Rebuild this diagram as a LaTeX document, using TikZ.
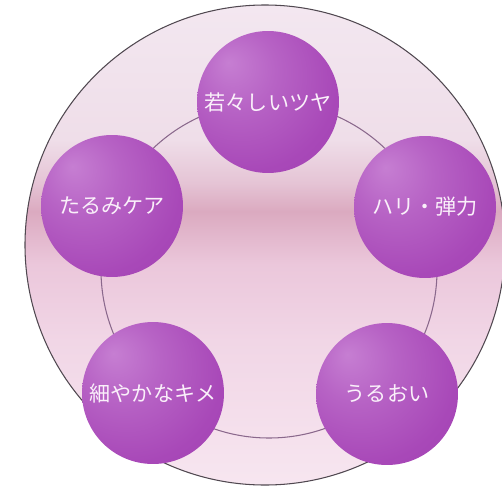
\documentclass[tikz,border=0pt]{standalone}
\usepackage{fontspec}
\newfontfamily\cjk{Noto Sans CJK JP}
\usetikzlibrary{calc}
\definecolor{BgTop}{RGB}{243,231,240}
\definecolor{BgHigh}{RGB}{239,222,233}
\definecolor{BgEdge}{RGB}{229,196,213}
\definecolor{BgMid}{RGB}{219,170,192}
\definecolor{BgLow}{RGB}{235,199,219}
\definecolor{BgDeep}{RGB}{241,214,230}
\definecolor{BgBot}{RGB}{247,230,240}
\definecolor{RimClr}{RGB}{80,72,80}
\definecolor{RingClr}{RGB}{138,104,140}
\definecolor{BallClr}{RGB}{168,72,184}
\definecolor{BallLight}{RGB}{198,126,210}
\definecolor{BallDark}{RGB}{156,62,174}
\definecolor{TextClr}{RGB}{250,240,250}

% backdrop band: 25bp = bottom of the disc, 75bp = top
\pgfdeclareverticalshading{silkband}{100bp}{%
  color(0bp)=(BgBot); color(25bp)=(BgBot); color(40bp)=(BgDeep);
  color(48bp)=(BgLow); color(53.5bp)=(BgMid); color(56.5bp)=(BgEdge);
  color(61bp)=(BgHigh); color(75bp)=(BgTop); color(100bp)=(BgTop)}

\pgfdeclareradialshading{pearlshade}{\pgfpoint{-14bp}{14bp}}{%
  color(0bp)=(BallLight); color(14bp)=(BallLight!50!BallClr);
  color(32bp)=(BallClr); color(54bp)=(BallDark); color(70bp)=(BallDark)}

\tikzset{
  ballnode/.style={circle, minimum size=2.84cm, inner sep=0pt,
    shading=pearlshade, text=TextClr, font=\cjk\fontsize{12}{14}\selectfont},
}

\begin{document}
\begin{tikzpicture}[x=0.02cm,y=-0.02cm]
\useasboundingbox (0,0) rectangle (502,486);

% backdrop
\coordinate (O) at (265,245);
\coordinate (R) at (269,270);
\shade[shading=silkband] (O) circle[radius=240];
\draw[RimClr, line width=0.6pt] (O) circle[radius=240];
\draw[RingClr, line width=0.6pt] (R) circle[radius=168];

% the five spheres
\node[ballnode] (tsuya) at (268,102) {若々しいツヤ};
\node[ballnode] (tarumi) at (112,206) {たるみケア};
\node[ballnode] (hari) at (425,207) {ハリ・弾力};
\node[ballnode] (kime) at (153,393) {細やかなキメ};
\node[ballnode] (uruoi) at (387,394) {うるおい};

\end{tikzpicture}
\end{document}
